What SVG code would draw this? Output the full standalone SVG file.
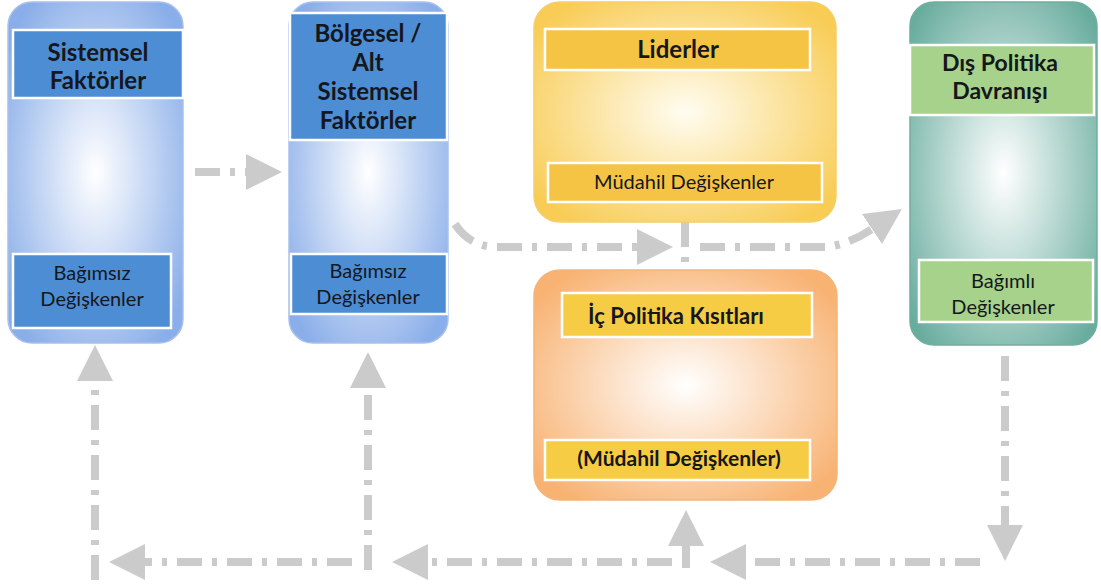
<svg xmlns="http://www.w3.org/2000/svg" width="1101" height="585" viewBox="0 0 1101 585">
<style>
.t{font-family:Lato,"Open Sans","Liberation Sans",sans-serif;font-weight:700;fill:#15171c;text-anchor:middle}
.s{font-family:Lato,"Open Sans","Liberation Sans",sans-serif;font-weight:400;fill:#15171c;text-anchor:middle}
.band{stroke:#ffffff;stroke-width:2.5}
.con{fill:none;stroke:#cbcbcb;stroke-width:8;stroke-dasharray:25 10 5 10}
</style>
<defs>
<radialGradient id="gB" cx="0.5" cy="0.5" r="0.62"><stop offset="0" stop-color="#ffffff"/><stop offset="1" stop-color="#8aaee9"/></radialGradient>
<radialGradient id="gY" cx="0.5" cy="0.5" r="0.62"><stop offset="0" stop-color="#fffdf2"/><stop offset="1" stop-color="#f8cc55"/></radialGradient>
<radialGradient id="gO" cx="0.5" cy="0.5" r="0.62"><stop offset="0" stop-color="#ffffff"/><stop offset="1" stop-color="#f8b272"/></radialGradient>
<radialGradient id="gT" cx="0.5" cy="0.5" r="0.65"><stop offset="0" stop-color="#ffffff"/><stop offset="1" stop-color="#68ac9e"/></radialGradient>
<marker id="ah" viewBox="0 0 36 36" refX="0" refY="18" markerWidth="36" markerHeight="36" markerUnits="userSpaceOnUse" orient="auto"><path d="M0,0 L36,18 L0,36 z" fill="#cbcbcb"/></marker>
</defs>

<g id="connectors">
<path class="con" d="M195,172 H246" marker-end="url(#ah)"/>
<path class="con" d="M455,224 Q470,247 497,247 H637" marker-end="url(#ah)"/>
<path class="con" d="M685,222 V266"/>
<path class="con" d="M700,247 H825 Q848,245 872,229" marker-end="url(#ah)"/>
<path class="con" d="M1005,356 V525" marker-end="url(#ah)"/>
<path class="con" d="M980,562 H746" marker-end="url(#ah)"/>
<path class="con" d="M686,568 V546" marker-end="url(#ah)"/>
<path class="con" d="M672,562 H428" marker-end="url(#ah)"/>
<path class="con" d="M368,570 V388" marker-end="url(#ah)"/>
<path class="con" d="M352,562 H145" marker-end="url(#ah)"/>
<path class="con" d="M95,580 V381" marker-end="url(#ah)"/>
</g>

<g id="sistemsel">
<rect x="8" y="2" width="175" height="341" rx="24" fill="url(#gB)" stroke="#a8c1ec" stroke-width="1.5"/>
<rect class="band" x="13" y="30" width="170" height="68" fill="#4d8dd4"/>
<text class="t" x="98" y="61" font-size="24">Sistemsel</text>
<text class="t" x="98" y="89" font-size="24">Faktörler</text>
<rect class="band" x="13" y="254" width="158" height="74" fill="#4d8dd4"/>
<text class="s" x="92" y="280" font-size="20">Bağımsız</text>
<text class="s" x="92" y="306" font-size="20">Değişkenler</text>
</g>

<g id="bolgesel">
<rect x="289" y="2" width="159" height="341" rx="24" fill="url(#gB)" stroke="#a8c1ec" stroke-width="1.5"/>
<rect class="band" x="290" y="13" width="157" height="127" fill="#4d8dd4"/>
<text class="t" x="368" y="42" font-size="24">Bölgesel /</text>
<text class="t" x="368" y="71" font-size="24">Alt</text>
<text class="t" x="368" y="100" font-size="24">Sistemsel</text>
<text class="t" x="368" y="129" font-size="24">Faktörler</text>
<rect class="band" x="291" y="254" width="156" height="60" fill="#4d8dd4"/>
<text class="s" x="368" y="278" font-size="20">Bağımsız</text>
<text class="s" x="368" y="304" font-size="20">Değişkenler</text>
</g>

<g id="liderler">
<rect x="534" y="2" width="302" height="220" rx="26" fill="url(#gY)" stroke="#f3cf6a" stroke-width="1.5"/>
<rect class="band" x="545" y="29" width="265" height="41" fill="#f6c445"/>
<text class="t" x="678" y="58" font-size="24">Liderler</text>
<rect class="band" x="548" y="163" width="274" height="39" fill="#f6c445"/>
<text class="s" x="684" y="189" font-size="20">Müdahil Değişkenler</text>
</g>

<g id="icpolitika">
<rect x="534" y="270" width="303" height="230" rx="26" fill="url(#gO)" stroke="#f4b47a" stroke-width="1.5"/>
<rect class="band" x="562" y="293" width="250" height="44" fill="#f7cc45"/>
<text class="t" x="676" y="324" font-size="22">İç Politika Kısıtları</text>
<rect class="band" x="545" y="440" width="265" height="40" fill="#f7cc45"/>
<text class="t" x="679" y="466" font-size="21">(Müdahil Değişkenler)</text>
</g>

<g id="dispolitika">
<rect x="910" y="2" width="187" height="343" rx="24" fill="url(#gT)" stroke="#6fae9f" stroke-width="1.5"/>
<rect class="band" x="910" y="45" width="184" height="70" fill="#a6d28b"/>
<text class="t" x="1000" y="71" font-size="23">Dış Politika</text>
<text class="t" x="1000" y="99" font-size="23">Davranışı</text>
<rect class="band" x="919" y="260" width="174" height="62" fill="#a6d28b"/>
<text class="s" x="1003" y="288" font-size="20">Bağımlı</text>
<text class="s" x="1003" y="314" font-size="20">Değişkenler</text>
</g>
</svg>
